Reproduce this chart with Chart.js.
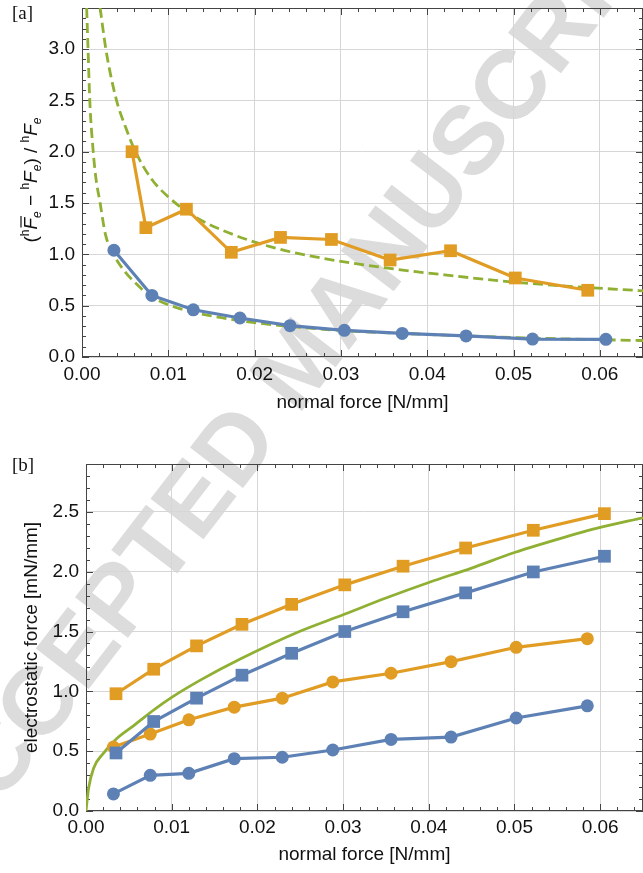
<!DOCTYPE html>
<html>
<head>
<meta charset="utf-8">
<script src="https://cdn.jsdelivr.net/npm/chart.js@4.4.1/dist/chart.umd.min.js"></script>
<style>
  html, body { margin: 0; padding: 0; background: #fff; overflow: hidden; }
  #page { position: relative; width: 643px; height: 873px; overflow: hidden; }
  .wm {
    position: absolute; left: 298px; top: 362px;
    transform: translate(-50%, -50%) rotate(-52.5deg);
    font: bold 97px "Liberation Sans", sans-serif; color: #dcdcdc;
    white-space: nowrap; z-index: 0;
  }
  canvas { position: absolute; left: 0; z-index: 1; }
  #chartA { top: 0; }
  #chartB { top: 430px; }
</style>
</head>
<body>
<div id="page">
  <div class="wm">ACCEPTED MANUSCRIPT</div>
  <canvas id="chartA" width="643" height="430"></canvas>
  <canvas id="chartB" width="643" height="443"></canvas>
</div>
<script>
// ---- panel [a] ----
const aBlueX = [0.0037, 0.0081, 0.0129, 0.0183, 0.0241, 0.0304, 0.0371, 0.0445, 0.0522, 0.0607];
const aBlueY = [1.04, 0.60, 0.46, 0.38, 0.305, 0.26, 0.23, 0.205, 0.175, 0.172];
const aOrangeX = [0.0058, 0.0074, 0.0121, 0.0173, 0.0230, 0.0289, 0.0357, 0.0427, 0.0502, 0.0586];
const aOrangeY = [2.0, 1.26, 1.44, 1.02, 1.165, 1.145, 0.945, 1.035, 0.77, 0.65];
// dashed reference curves
const aUpperX = [0.0021, 0.0028, 0.0040, 0.0050, 0.0062, 0.0080, 0.0100, 0.0130, 0.0170, 0.0220, 0.0280, 0.0350, 0.0420, 0.0500, 0.0580, 0.0650];
const aUpperY = [3.40, 2.98, 2.50, 2.25, 2.00, 1.74, 1.56, 1.37, 1.21, 1.07, 0.96, 0.87, 0.80, 0.73, 0.68, 0.645];
const aLowerX = [0.00054, 0.0007, 0.0009, 0.0013, 0.0016, 0.0021, 0.0027, 0.0036, 0.0048, 0.0062, 0.0080, 0.0110, 0.0150, 0.0200, 0.0280, 0.0400, 0.0520, 0.0650];
const aLowerY = [3.40, 3.00, 2.50, 2.00, 1.75, 1.50, 1.20, 1.01, 0.85, 0.72, 0.59, 0.48, 0.40, 0.335, 0.27, 0.22, 0.185, 0.16];
const aYTicks = [0, 0.5, 1.0, 1.5, 2.0, 2.5, 3.0];

// ---- panel [b] ----
const bCircleX = [0.0032, 0.0075, 0.0120, 0.0173, 0.0229, 0.0288, 0.0356, 0.0426, 0.0502, 0.0585];
const bSquareX = [0.0035, 0.0079, 0.0129, 0.0182, 0.0240, 0.0302, 0.0370, 0.0443, 0.0522, 0.0605];
const bOrangeSqY = [0.98, 1.185, 1.38, 1.56, 1.727, 1.89, 2.046, 2.198, 2.346, 2.485];
const bBlueSqY = [0.485, 0.748, 0.943, 1.135, 1.318, 1.50, 1.665, 1.823, 1.998, 2.129];
const bOrangeCiY = [0.535, 0.643, 0.762, 0.868, 0.943, 1.079, 1.151, 1.248, 1.368, 1.44];
const bBlueCiY = [0.143, 0.298, 0.315, 0.4375, 0.449, 0.51, 0.598, 0.618, 0.777, 0.879];
const bCurveX = [0, 0.0003, 0.0009, 0.002, 0.0035, 0.0055, 0.008, 0.010, 0.0135, 0.018, 0.0249, 0.030, 0.035, 0.040, 0.045, 0.050, 0.055, 0.060, 0.065];
const bCurveY = [0, 0.19, 0.36, 0.48, 0.60, 0.71, 0.85, 0.95, 1.10, 1.27, 1.50, 1.64, 1.78, 1.91, 2.03, 2.16, 2.27, 2.37, 2.45];
const bYTicks = [0, 0.5, 1.0, 1.5, 2.0, 2.5];

const xTicks = [0, 0.01, 0.02, 0.03, 0.04, 0.05, 0.06];

const BLUE = '#5e81b5', ORANGE = '#e19c24', GREEN = '#8fb032';
const FONT = '"Liberation Sans", Arial, sans-serif';
const TXT = '#111';
const GRID = '#d6d6d6';

function pts(xs, ys) { return xs.map((x, i) => ({ x, y: ys[i] })); }

function series(xs, ys, color, style) {
  return {
    data: pts(xs, ys), showLine: true, borderColor: color, backgroundColor: color,
    borderWidth: 3.2, pointStyle: style, pointRadius: style === 'rect' ? 9 : 6.5,
    pointBorderWidth: 0, pointHoverRadius: 0, tension: 0
  };
}

function curve(xs, ys, dashed) {
  return {
    data: pts(xs, ys), showLine: true, borderColor: GREEN, borderWidth: 2.8,
    borderDash: dashed ? [10, 5] : [], pointRadius: 0, cubicInterpolationMode: 'monotone'
  };
}

// no automatic label padding: the plot box is set by layout padding + afterFit
function noPad(s) { s.paddingTop = 0; s.paddingBottom = 0; s.paddingLeft = 0; s.paddingRight = 0; }

// frame with inward ticks on all sides + panel label
const framePlugin = {
  id: 'frame',
  beforeDatasetsDraw(chart, args, opts) {
    const { ctx, chartArea: a, scales: { x, y } } = chart;
    ctx.save();
    ctx.strokeStyle = '#444';
    ctx.lineWidth = 1;
    ctx.strokeRect(a.left + 0.5, a.top + 0.5, a.right - a.left - 1, a.bottom - a.top - 1);
    ctx.beginPath();
    for (let i = 0; i * 0.002 <= x.max + 1e-9; i++) {
      const px = Math.round(x.getPixelForValue(i * 0.002)) + 0.5;
      const len = i % 5 === 0 ? 7 : 4;
      ctx.moveTo(px, a.bottom); ctx.lineTo(px, a.bottom - len);
      ctx.moveTo(px, a.top); ctx.lineTo(px, a.top + len);
    }
    for (let i = 0; i * 0.1 <= y.max + 1e-9; i++) {
      const py = Math.round(y.getPixelForValue(i * 0.1)) + 0.5;
      const len = i % 5 === 0 ? 7 : 4;
      ctx.moveTo(a.left, py); ctx.lineTo(a.left + len, py);
      ctx.moveTo(a.right, py); ctx.lineTo(a.right - len, py);
    }
    ctx.stroke();
    ctx.fillStyle = TXT;
    ctx.font = '19px "Liberation Serif", serif';
    ctx.textBaseline = 'alphabetic';
    ctx.fillText(opts.label, 12, opts.labelY);
    ctx.restore();
  }
};

// y title of panel [a]: (hF̄e − hFe) / hFe
const ratioTitlePlugin = {
  id: 'ratioTitle',
  afterDraw(chart, args, opts) {
    if (!opts.show) return;
    const { ctx } = chart;
    const big = '19px ' + FONT, bigI = 'italic 19px ' + FONT;
    const sm = '12px ' + FONT, smI = 'italic 12px ' + FONT;
    const term = bar => [
      { t: 'h', f: sm, dy: -8 },
      { t: 'F', f: bigI, dy: 0, bar },
      { t: 'e', f: smI, dy: 4 }
    ];
    const parts = [{ t: '(', f: big, dy: 0 }, ...term(true), { t: ' \u2212 ', f: big, dy: 0 },
      ...term(false), { t: ')', f: big, dy: 0 }, { t: ' / ', f: big, dy: 0 }, ...term(false)];
    ctx.save();
    let total = 0;
    parts.forEach(p => { ctx.font = p.f; p.w = ctx.measureText(p.t).width; total += p.w; });
    ctx.translate(37, 180);
    ctx.rotate(-Math.PI / 2);
    ctx.fillStyle = TXT;
    ctx.strokeStyle = TXT;
    ctx.textBaseline = 'alphabetic';
    let u = -total / 2;
    parts.forEach(p => {
      ctx.font = p.f;
      ctx.fillText(p.t, u, p.dy);
      if (p.bar) {
        ctx.lineWidth = 1.2;
        ctx.beginPath(); ctx.moveTo(u + 2, -16); ctx.lineTo(u + p.w + 2, -16); ctx.stroke();
      }
      u += p.w;
    });
    ctx.restore();
  }
};

function makeChart(id, datasets, cfg) {
  return new Chart(document.getElementById(id), {
    type: 'scatter',
    data: { datasets },
    plugins: [framePlugin, ratioTitlePlugin],
    options: {
      responsive: false, animation: false, devicePixelRatio: 1,
      layout: { autoPadding: false, padding: { top: cfg.top, left: 0, right: cfg.right, bottom: 0 } },
      plugins: {
        legend: { display: false }, tooltip: { enabled: false },
        frame: { label: cfg.label, labelY: cfg.labelY },
        ratioTitle: { show: cfg.ratioTitle }
      },
      scales: {
        x: {
          type: 'linear', min: 0, max: 0.065,
          afterBuildTicks: s => { s.ticks = xTicks.map(v => ({ value: v })); },
          afterFit: s => { s.height = cfg.xH; noPad(s); },
          grid: { color: GRID, lineWidth: 1, drawTicks: false },
          border: { display: false },
          ticks: { callback: v => v.toFixed(2), padding: cfg.xPad, color: TXT, font: { family: FONT, size: 19 }, autoSkip: false, maxRotation: 0 },
          title: { display: true, text: 'normal force [N/mm]', color: TXT, font: { family: FONT, size: 19 }, padding: { top: 0, bottom: cfg.xTitlePad } }
        },
        y: {
          type: 'linear', min: 0, max: cfg.yMax,
          afterBuildTicks: s => { s.ticks = cfg.yTicks.map(v => ({ value: v })); },
          afterFit: s => { s.width = cfg.yW; noPad(s); },
          grid: { color: GRID, lineWidth: 1, drawTicks: false },
          border: { display: false },
          ticks: { callback: v => v.toFixed(1), padding: 7, color: TXT, font: { family: FONT, size: 19 }, autoSkip: false },
          title: { display: !!cfg.yTitle, text: cfg.yTitle || '', color: TXT, font: { family: FONT, size: 19 }, padding: { top: 20.5, bottom: 0 } }
        }
      }
    }
  });
}

makeChart('chartA', [
  series(aBlueX, aBlueY, BLUE, 'circle'),
  series(aOrangeX, aOrangeY, ORANGE, 'rect'),
  curve(aUpperX, aUpperY, true),
  curve(aLowerX, aLowerY, true)
], { top: 8, right: -3, xH: 73, yW: 82, yMax: 3.4, yTicks: aYTicks, xPad: 6, xTitlePad: 16, label: '[a]', labelY: 19, ratioTitle: true });

makeChart('chartB', [
  series(bSquareX, bOrangeSqY, ORANGE, 'rect'),
  series(bSquareX, bBlueSqY, BLUE, 'rect'),
  series(bCircleX, bOrangeCiY, ORANGE, 'circle'),
  series(bCircleX, bBlueCiY, BLUE, 'circle'),
  curve(bCurveX, bCurveY, false)
], { top: 34, right: -2, xH: 62, yW: 86, yMax: 2.9, yTicks: bYTicks, xPad: 5, xTitlePad: 6.6, label: '[b]', labelY: 41, ratioTitle: false, yTitle: 'electrostatic force [mN/mm]' });
</script>
</body>
</html>
